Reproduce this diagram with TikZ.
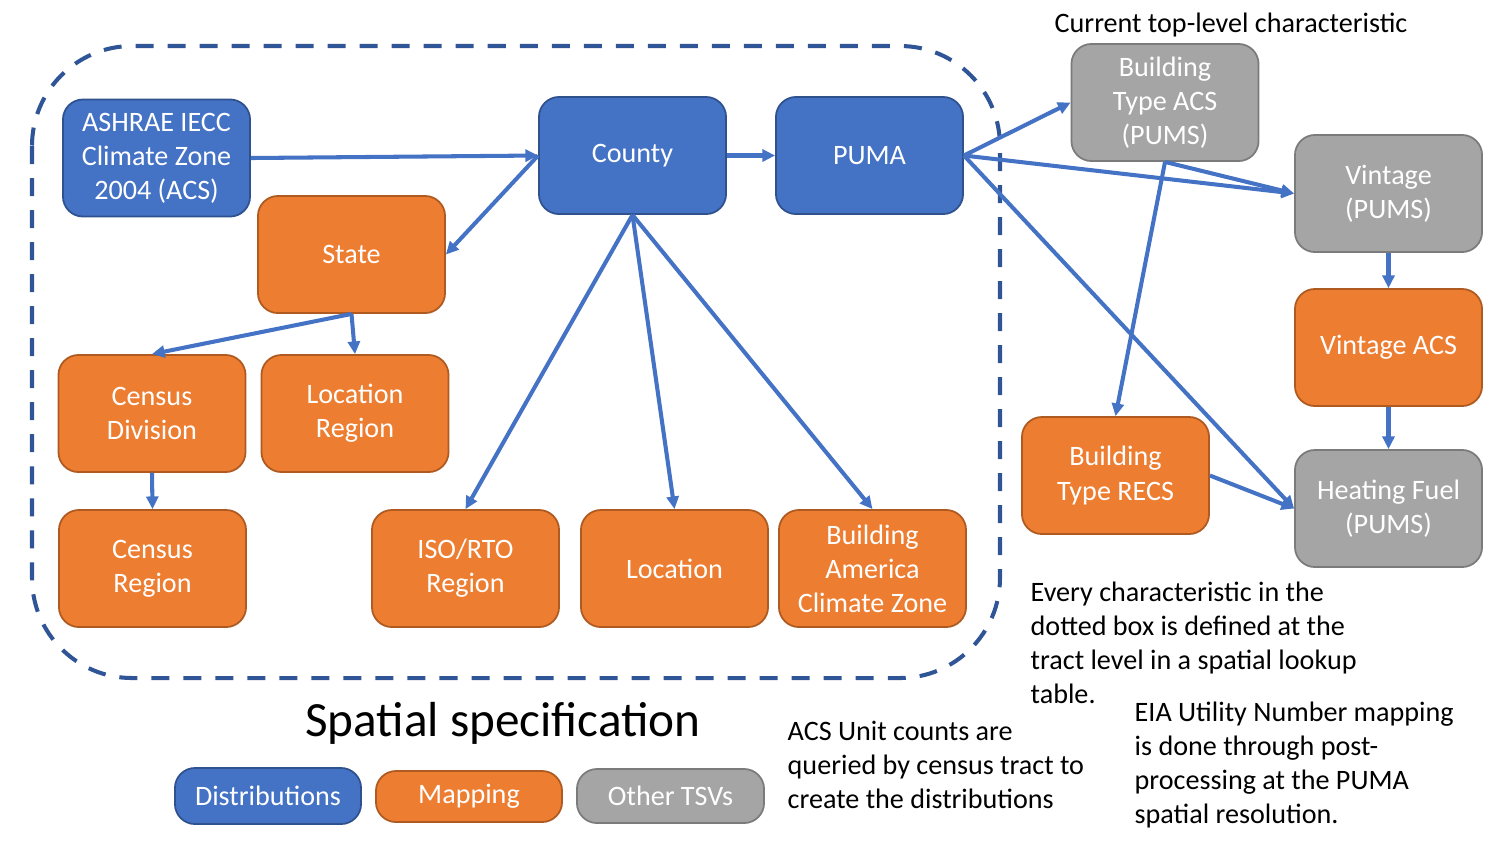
\documentclass[tikz,border=0pt]{standalone}
\usepackage{fontspec}
\setmainfont{Carlito}
\usetikzlibrary{arrows.meta}
\definecolor{blx}{HTML}{4472C4}
\definecolor{blb}{HTML}{2F528F}
\definecolor{orx}{HTML}{ED7D31}
\definecolor{orb}{HTML}{AE5A21}
\definecolor{gyx}{HTML}{A5A5A5}
\definecolor{gyb}{HTML}{7B7B7B}
\definecolor{dbx}{HTML}{2F5597}
\tikzset{
    tsv/.style={rounded corners=0.2cm,line width=0.5pt,inner sep=0pt,align=center,
        minimum width=1.87cm,minimum height=1.17cm,text=white,
        font=\fontsize{8}{9.7}\selectfont},
    distr/.style={tsv,fill=blx,draw=blb},
    mapp/.style={tsv,fill=orx,draw=orb},
    othr/.style={tsv,fill=gyx,draw=gyb},
    link/.style={blx,line width=1.15pt,-{Triangle[length=3.6pt,width=3.4pt]}},
    note/.style={align=left,inner sep=0pt,anchor=north west,
        font=\fontsize{8}{9.7}\selectfont}
}
\begin{document}
\begin{tikzpicture}[x=0.01cm,y=-0.01cm]
    \useasboundingbox (0,0) rectangle (1500,844);
    % dotted box round the spatial characteristics
    \draw [dbx,line width=1.15pt,dash pattern=on 0.18cm off 0.14cm,rounded corners=1cm]
        (32,46) rectangle (1000,678);
    % distributions
    \node [distr] (ashrae) at (156.5,158) {ASHRAE IECC\\Climate Zone\\2004 (ACS)};
    \node [distr] (county) at (632.5,155.5) {County};
    \node [distr] (puma) at (869.5,155.5) {PUMA};
    % mappings
    \node [mapp] (state) at (351.5,254.5) {State};
    \node [mapp] (cdiv) at (152,413.5) {Census\\Division};
    \node [mapp] (lreg) at (355,413.5) {Location\\Region};
    \node [mapp] (creg) at (152.5,568.5) {Census\\Region};
    \node [mapp] (iso) at (465.5,568.5) {ISO/RTO\\Region};
    \node [mapp] (loc) at (674.5,568.5) {Location};
    \node [mapp] (bacz) at (872.5,568.5) {Building\\America\\Climate Zone};
    \node [mapp] (vacs) at (1388.5,347.5) {Vintage ACS};
    \node [mapp] (btrecs) at (1115.5,475.5) {Building\\Type RECS};
    % other tsvs
    \node [othr] (btacs) at (1165,102.5) {Building\\Type ACS\\(PUMS)};
    \node [othr] (vint) at (1388.5,193.5) {Vintage\\(PUMS)};
    \node [othr] (hfuel) at (1388.5,508.5) {Heating Fuel\\(PUMS)};
    % connectors
    \draw [link] (ashrae.east) -- (county.west);
    \draw [link] (county.west) -- (state.east);
    \draw [link] (county.east) -- (puma.west);
    \draw [link] (state.south) -- (cdiv.north);
    \draw [link] (state.south) -- (lreg.north);
    \draw [link] (cdiv.south) -- (creg.north);
    \foreach \t in {iso,loc,bacz} {
        \draw [link] (county.south) -- (\t.north);
    }
    \foreach \t in {btacs,vint,hfuel} {
        \draw [link] (puma.east) -- (\t.west);
    }
    \draw [link] (btacs.south) -- (vint.west);
    \draw [link] (btacs.south) -- (btrecs.north);
    \draw [link] (vint.south) -- (vacs.north);
    \draw [link] (vacs.south) -- (hfuel.north);
    \draw [link] (btrecs.east) -- (hfuel.west);
    % texts
    \node [font=\fontsize{8}{9.7}\selectfont] (top) at (1231,25) {Current top-level characteristic};
    \node [font=\fontsize{14}{17}\selectfont] (title) at (503,723) {Spatial specification};
    \node [note] (every) at (1030,581) {Every characteristic in the\\dotted box is defined at the\\tract level in a spatial lookup\\table.};
    \node [note] (acs) at (787,720) {ACS Unit counts are\\queried by census tract to\\create the distributions};
    \node [note] (eia) at (1134,701) {EIA Utility Number mapping\\is done through post-\\processing at the PUMA\\spatial resolution.};
    % legend
    \node [distr,minimum width=1.86cm,minimum height=0.56cm] (ldist) at (268,796) {Distributions};
    \node [mapp,minimum width=1.86cm,minimum height=0.51cm] (lmapp) at (469,796.5) {Mapping};
    \node [othr,minimum width=1.87cm,minimum height=0.54cm] (lothr) at (670.5,796) {Other TSVs};
\end{tikzpicture}
\end{document}
